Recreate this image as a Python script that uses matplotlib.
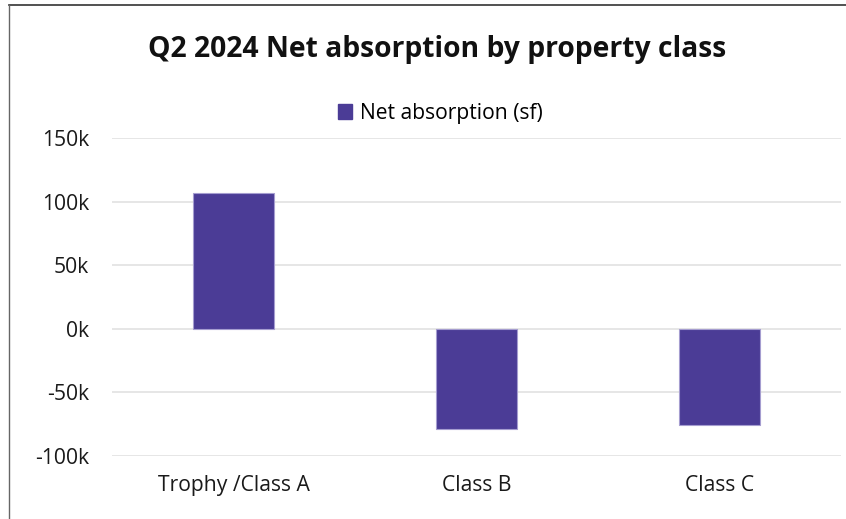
import matplotlib.pyplot as plt
from matplotlib.lines import Line2D
from matplotlib.patches import Patch

categories = ['Trophy /Class A', 'Class B', 'Class C']
net_absorption = [107000, -79000, -76000]
y_ticks = [-100000, -50000, 0, 50000, 100000, 150000]
y_labels = ['-100k', '-50k', '0k', '50k', '100k', '150k']

plt.rcParams['font.family'] = ['Open Sans', 'DejaVu Sans']

W, H = 846, 519
fig = plt.figure(figsize=(W / 100, H / 100), dpi=100)
ax = fig.add_axes([112 / W, (H - 456) / H, (841 - 112) / W, (456 - 138) / H])

bar_color = '#4B3C96'
ax.bar(range(len(categories)), net_absorption, width=0.33, color=bar_color,
       edgecolor='#A59DD0', linewidth=0.8, zorder=3)

ax.set_xlim(-0.5, len(categories) - 0.5)
ax.set_ylim(-100000, 150000)
ax.set_yticks(y_ticks)
ax.set_yticklabels(y_labels)
ax.set_xticks(range(len(categories)))
ax.set_xticklabels(categories)
ax.tick_params(axis='both', length=0, labelsize=15.2, colors='#1a1a1a')
ax.tick_params(axis='y', pad=16.5)
ax.tick_params(axis='x', pad=14)
ax.grid(axis='y', color='#E2E2E2', linewidth=1.2, zorder=0)
for s in ax.spines.values():
    s.set_visible(False)

fig.text(437 / W, 1 - 50 / H, 'Q2 2024 Net absorption by property class',
         ha='center', va='center', fontsize=20.3, fontweight='bold', color='#111111')

handle = Patch(color=bar_color)
fig.legend([handle], ['Net absorption (sf)'], loc='center', bbox_to_anchor=(440 / W, 1 - 113 / H),
           frameon=False, fontsize=15.2, handlelength=0.7, handleheight=0.7, handletextpad=0.35)

# outer border
fig.add_artist(Line2D([9 / W, 1], [1 - 5 / H, 1 - 5 / H], color='#333333', linewidth=1.2))
fig.add_artist(Line2D([9 / W, 9 / W], [0, 1 - 5 / H], color='#666666', linewidth=1.0))

fig.savefig('out.png', dpi=100)
